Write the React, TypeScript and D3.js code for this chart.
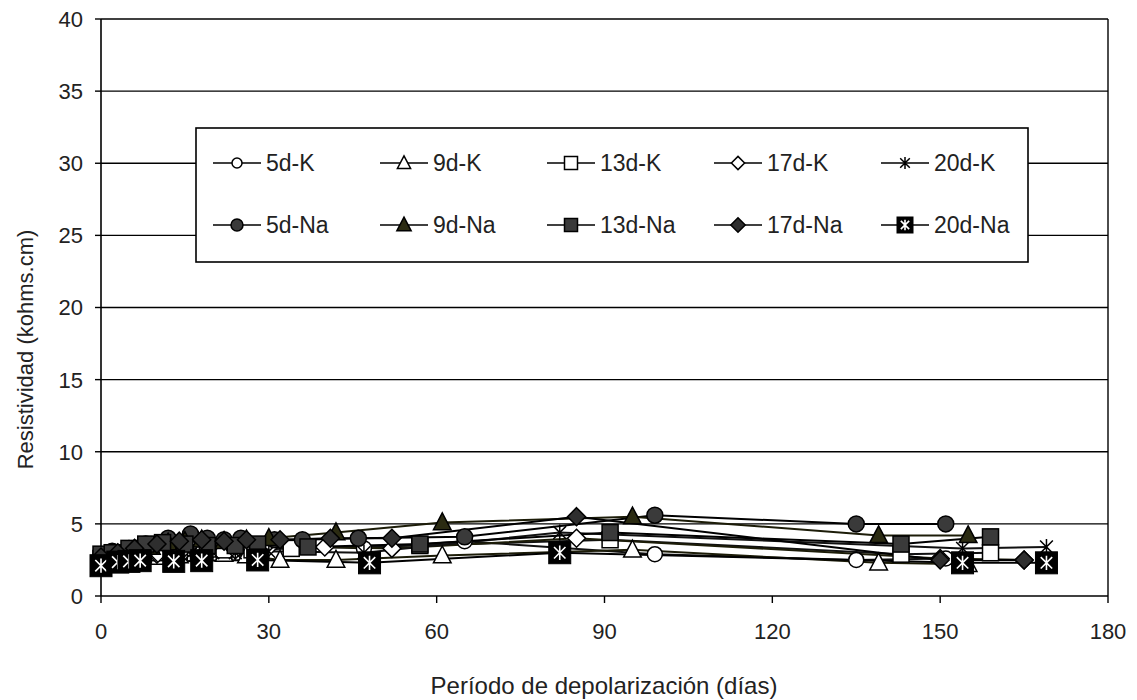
import React from "react";
import * as d3 from "d3";

const xTicks = [0, 30, 60, 90, 120, 150, 180];
const yTicks = [0, 5, 10, 15, 20, 25, 30, 35, 40];

const seriesNames = ["5d-K", "9d-K", "13d-K", "17d-K", "20d-K", "5d-Na", "9d-Na", "13d-Na", "17d-Na", "20d-Na"];

const days5K = [0, 2, 5, 8, 12, 16, 20, 25, 29, 36, 47, 65, 99, 135, 151];
const res5K = [2.5, 2.7, 2.9, 3.0, 3.2, 3.3, 3.2, 3.4, 3.3, 3.5, 3.3, 3.8, 2.9, 2.5, 2.6];
const days9K = [0, 3, 6, 10, 14, 18, 22, 26, 32, 42, 61, 95, 139, 155];
const res9K = [2.4, 2.5, 2.6, 2.7, 2.8, 2.8, 2.9, 2.8, 2.5, 2.5, 2.8, 3.2, 2.3, 2.2];
const days13K = [0, 3, 6, 10, 14, 18, 22, 27, 34, 57, 91, 143, 159];
const res13K = [2.6, 2.8, 2.9, 3.0, 3.1, 3.0, 3.2, 3.2, 3.3, 3.5, 3.9, 2.9, 3.0];
const days17K = [0, 3, 6, 10, 14, 18, 24, 30, 40, 52, 85, 150, 165];
const res17K = [2.5, 2.7, 2.8, 2.9, 3.0, 3.1, 3.2, 3.4, 3.4, 3.3, 4.0, 2.6, 2.5];
const days20K = [0, 2, 4, 6, 9, 12, 16, 20, 24, 30, 47, 82, 154, 169];
const res20K = [2.4, 2.6, 2.7, 2.7, 2.8, 2.9, 2.9, 3.0, 3.0, 3.1, 3.0, 4.4, 3.3, 3.4];

const days5Na = [0, 2, 5, 8, 12, 16, 19, 22, 25, 31, 36, 46, 65, 99, 135, 151];
const res5Na = [2.8, 3.1, 3.3, 3.6, 4.0, 4.3, 4.0, 3.9, 4.0, 3.9, 3.9, 4.0, 4.1, 5.6, 5.0, 5.0];
const days9Na = [0, 3, 6, 9, 12, 15, 18, 22, 26, 30, 42, 61, 95, 139, 155];
const res9Na = [2.7, 2.9, 3.2, 3.4, 3.7, 3.8, 3.9, 3.8, 3.9, 4.0, 4.4, 5.1, 5.5, 4.2, 4.2];
const days13Na = [0, 2, 5, 8, 11, 15, 19, 24, 28, 37, 57, 91, 143, 159];
const res13Na = [2.9, 3.0, 3.3, 3.6, 3.7, 3.6, 3.5, 3.5, 3.6, 3.4, 3.6, 4.4, 3.6, 4.1];
const days17Na = [0, 3, 6, 10, 14, 18, 22, 26, 32, 41, 52, 85, 150, 165];
const res17Na = [2.7, 3.0, 3.3, 3.6, 3.8, 3.9, 3.8, 3.9, 3.9, 4.0, 4.0, 5.5, 2.5, 2.5];
const days20Na = [0, 3, 5, 7, 13, 18, 28, 48, 82, 154, 169];
const res20Na = [2.1, 2.35, 2.4, 2.45, 2.4, 2.45, 2.5, 2.3, 3.0, 2.3, 2.3];

const seriesDays = [days5K, days9K, days13K, days17K, days20K, days5Na, days9Na, days13Na, days17Na, days20Na];
const seriesRes = [res5K, res9K, res13K, res17K, res20K, res5Na, res9Na, res13Na, res17Na, res20Na];

type Shape = "circle" | "triangle" | "square" | "diamond" | "star" | "boxstar";
const shapes: Shape[] = ["circle", "triangle", "square", "diamond", "star", "circle", "triangle", "square", "diamond", "boxstar"];
const fillColors = ["#fff", "#fff", "#fff", "#fff", "#fff", "#3a3a3a", "#2b2b12", "#3a3a3a", "#2e2e2e", "#000"];
const lineColors = ["#111", "#1c1c08", "#111", "#1c1c08", "#111", "#000", "#1c1c08", "#000", "#000", "#000"];

const W = 1137;
const H = 700;
const left = 101;
const right = 1108;
const top = 19;
const bottom = 596;
const FONT = "'Liberation Sans', Arial, sans-serif";

function Marker({ shape, x, y, s, fill }: { shape: Shape; x: number; y: number; s: number; fill: string }) {
  const sw = 1.5;
  if (shape === "circle") return <circle cx={x} cy={y} r={s / 2} fill={fill} stroke="#000" strokeWidth={sw} />;
  if (shape === "square")
    return <rect x={x - s / 2} y={y - s / 2} width={s} height={s} fill={fill} stroke="#000" strokeWidth={sw} />;
  if (shape === "triangle") {
    const h = s;
    return (
      <path
        d={`M${x},${y - h * 0.6}L${x + s * 0.55},${y + h * 0.45}L${x - s * 0.55},${y + h * 0.45}Z`}
        fill={fill}
        stroke="#000"
        strokeWidth={sw}
      />
    );
  }
  if (shape === "diamond") {
    const r = s * 0.6;
    return <path d={`M${x},${y - r}L${x + r},${y}L${x},${y + r}L${x - r},${y}Z`} fill={fill} stroke="#000" strokeWidth={sw} />;
  }
  const r = s / 2;
  const star = (col: string, rr: number, w: number) => (
    <path
      d={`M${x},${y - rr}L${x},${y + rr}M${x - rr * 0.8},${y - rr * 0.8}L${x + rr * 0.8},${y + rr * 0.8}M${x + rr * 0.8},${y - rr * 0.8}L${x - rr * 0.8},${y + rr * 0.8}`}
      stroke={col}
      strokeWidth={w}
      fill="none"
    />
  );
  if (shape === "star") return star("#000", r, 1.5);
  return (
    <g>
      <rect x={x - r} y={y - r} width={s} height={s} fill="#000" stroke="#000" />
      {star("#fff", r * 0.65, 1.6)}
    </g>
  );
}

const markerSize = [15, 16, 16, 15, 16, 16, 16, 16, 15, 22];
const legendMarkerSize = [10, 12, 13, 11, 12, 12, 13, 13, 12, 16];

export default function App() {
  const x = d3.scaleLinear().domain([0, 180]).range([left, right]);
  const y = d3.scaleLinear().domain([0, 40]).range([bottom, top]);
  const line = d3
    .line<[number, number]>()
    .x((d) => x(d[0]))
    .y((d) => y(d[1]));

  const legendX0 = 213;
  const legendDX = 167;
  const legendRows = [163, 225];

  return (
    <svg width={W} height={H} style={{ position: "absolute", left: 0, top: 0, background: "#fff" }} fontFamily={FONT}>
      <rect x={0} y={0} width={W} height={H} fill="#fff" />
      {yTicks.map((t) => (
        <line key={"g" + t} x1={left} x2={right} y1={y(t)} y2={y(t)} stroke="#000" strokeWidth={1.4} />
      ))}
      <line x1={left} x2={left} y1={top} y2={bottom} stroke="#000" strokeWidth={1.6} />
      <line x1={right} x2={right} y1={top} y2={bottom} stroke="#000" strokeWidth={1.4} />
      {yTicks.map((t) => (
        <g key={"yt" + t}>
          <line x1={left - 6} x2={left} y1={y(t)} y2={y(t)} stroke="#000" strokeWidth={1.4} />
          <text x={83} y={y(t)} dy="0.36em" textAnchor="end" fontSize={22} fill="#222">
            {t}
          </text>
        </g>
      ))}
      {xTicks.map((t) => (
        <g key={"xt" + t}>
          <line x1={x(t)} x2={x(t)} y1={bottom} y2={bottom + 7} stroke="#000" strokeWidth={1.4} />
          <text x={x(t)} y={639} textAnchor="middle" fontSize={22} fill="#222">
            {t}
          </text>
        </g>
      ))}
      <text x={604} y={694} textAnchor="middle" fontSize={24} fill="#222">
        Período de depolarización (días)
      </text>
      <text
        transform={`translate(33,${(top + bottom) / 2 + 42}) rotate(-90)`}
        textAnchor="middle"
        fontSize={22}
        fill="#222"
      >
        Resistividad (kohms.cm)
      </text>

      {seriesNames.map((n, i) => (
        <path
          key={"l" + n}
          d={line(seriesDays[i].map((d, j) => [d, seriesRes[i][j]] as [number, number])) || ""}
          fill="none"
          stroke={lineColors[i]}
          strokeWidth={2}
        />
      ))}
      {seriesNames.map((n, i) => (
        <g key={"m" + n}>
          {seriesDays[i].map((d, j) => (
            <Marker key={j} shape={shapes[i]} x={x(d)} y={y(seriesRes[i][j])} s={markerSize[i]} fill={fillColors[i]} />
          ))}
        </g>
      ))}

      <rect x={196} y={128} width={832} height={134} fill="#fff" stroke="#000" strokeWidth={1.6} />
      {seriesNames.map((n, i) => {
        const col = i % 5;
        const row = Math.floor(i / 5);
        const lx = legendX0 + col * legendDX;
        const ly = legendRows[row];
        return (
          <g key={"lg" + n}>
            <line x1={lx} x2={lx + 48} y1={ly} y2={ly} stroke="#000" strokeWidth={1.6} />
            <Marker shape={shapes[i]} x={lx + 24} y={ly} s={legendMarkerSize[i]} fill={fillColors[i]} />
            <text x={lx + 53} y={ly} dy="0.36em" fontSize={23} fill="#222">
              {n}
            </text>
          </g>
        );
      })}
    </svg>
  );
}
